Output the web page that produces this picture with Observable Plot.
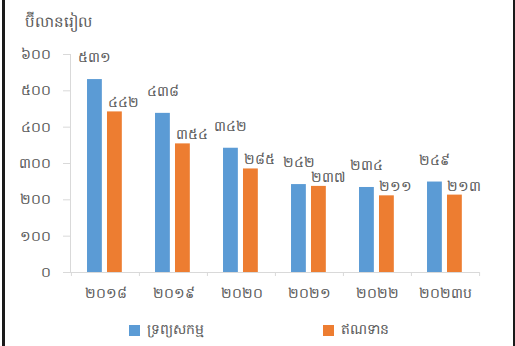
<!DOCTYPE html>
<html><head><meta charset="utf-8">
<script src="https://cdn.jsdelivr.net/npm/d3@7"></script>
<script src="https://cdn.jsdelivr.net/npm/@observablehq/plot@0.6"></script>
<style>
body{margin:0;background:#fff;}
#wrap{position:relative;width:515px;height:346px;overflow:hidden;font-family:"Noto Sans","DejaVu Sans",sans-serif;color:#595959;background:#fff}
#bl{position:absolute;left:2px;top:0;width:3px;height:346px;background:#1a1a1a}
#br{position:absolute;left:513px;top:0;width:2px;height:346px;background:#1a1a1a}
#title{position:absolute;left:25px;top:11px;font-size:15px;white-space:nowrap}
#chart{position:absolute;left:0;top:0}
.sw{position:absolute;width:11px;height:11px;top:325px}
.lt{position:absolute;top:319px;font-size:14px;white-space:nowrap}
</style></head>
<body><div id="wrap">
<div id="chart"></div>
<div id="title"></div>
<div class="sw" id="sw0"></div><div class="lt" id="lt0"></div>
<div class="sw" id="sw1"></div><div class="lt" id="lt1"></div>
<div id="bl"></div><div id="br"></div>
</div>
<script>
const titleText = "ប៊ីលានរៀល";
const categories = ["២០១៨", "២០១៩", "២០២០", "២០២១", "២០២២", "២០២៣ប"];
const seriesNames = ["ទ្រព្យសកម្ម", "ឥណទាន"];
const assets = [531, 438, 342, 242, 234, 249];
const loans = [442, 354, 285, 237, 211, 213];
const yTickValues = [0, 100, 200, 300, 400, 500, 600];
const yTickLabels = ["០", "១០០", "២០០", "៣០០", "៤០០", "៥០០", "៦០០"];
const colors = ["#5B9BD5", "#ED7D31"];

const kh = s => String(s).replace(/\d/g, d => "០១២៣៤៥៦៧៨៩"[d]);
const W = 515, H = 310, mL = 70, mR = 36, mT = 54, mB = 38;
const bw = (W - mL - mR) / categories.length;
const gray = "#d9d9d9", txt = "#595959";
const font = "Noto Sans, DejaVu Sans, sans-serif";

const dA = categories.map((c, i) => ({cat: c, v: assets[i]}));
const dL = categories.map((c, i) => ({cat: c, v: loans[i]}));

document.getElementById("title").textContent = titleText;

const chart = Plot.plot({
  width: W, height: H,
  marginLeft: mL, marginRight: mR, marginTop: mT, marginBottom: mB,
  style: {fontFamily: font, color: txt, background: "transparent"},
  x: {type: "band", domain: categories, padding: 0, axis: null},
  y: {domain: [0, 600], axis: null},
  marks: [
    Plot.frame({anchor: "left", stroke: gray}),
    Plot.axisY({ticks: yTickValues, tickFormat: d => yTickLabels[yTickValues.indexOf(d)],
      tickSize: 7, tickPadding: 13, stroke: gray, fill: txt, fontSize: 14, label: null}),
    Plot.barY(dA, {x: "cat", y: "v", fill: colors[0], insetLeft: bw * 0.235, insetRight: bw - bw * 0.455}),
    Plot.barY(dL, {x: "cat", y: "v", fill: colors[1], insetLeft: bw * 0.528, insetRight: bw - bw * 0.748}),
    Plot.ruleY([0], {stroke: gray}),
    Plot.axisX({tickSize: 4, tickFormat: () => "", dx: -bw / 2, stroke: gray, label: null}),
    Plot.axisX({ticks: [categories[categories.length - 1]], tickSize: 4, tickFormat: () => "", dx: bw / 2, stroke: gray, label: null}),
    Plot.axisX({tickSize: 0, tickPadding: 16, fill: txt, fontSize: 14, label: null}),
    Plot.text(dA, {x: "cat", y: "v", text: d => kh(d.v), dx: -bw * 0.155, dy: -22, fill: txt, fontSize: 14}),
    Plot.text(dL, {x: "cat", y: "v", text: d => kh(d.v), dx: bw * 0.27, dy: -9, fill: txt, fontSize: 14})
  ]
});
document.getElementById("chart").appendChild(chart);

const legendPos = [[129, 147], [323, 341]];
seriesNames.forEach((n, i) => {
  const sw = document.getElementById("sw" + i);
  sw.style.left = legendPos[i][0] + "px";
  sw.style.background = colors[i];
  const lt = document.getElementById("lt" + i);
  lt.style.left = legendPos[i][1] + "px";
  lt.textContent = n;
});
</script>
</body></html>
